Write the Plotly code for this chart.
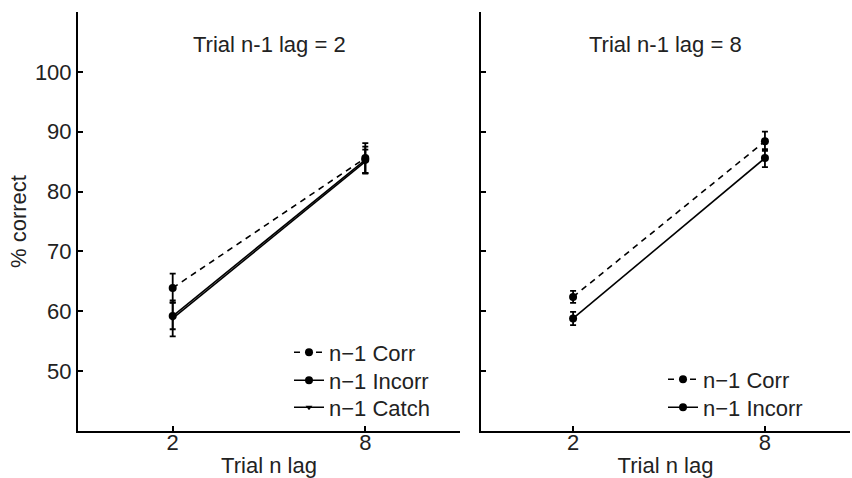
import plotly.graph_objects as go

x_lags = [2, 8]

# Panel 1: Trial n-1 lag = 2
p1_corr = [63.9, 85.6]
p1_corr_err = [2.4, 2.5]
p1_incorr = [59.2, 85.3]
p1_incorr_err = [2.2, 2.2]
p1_catch = [58.8, 85.0]
p1_catch_err = [3.0, 2.0]

# Panel 2: Trial n-1 lag = 8
p2_corr = [62.4, 88.4]
p2_corr_err = [1.0, 1.6]
p2_incorr = [58.8, 85.6]
p2_incorr_err = [1.1, 1.5]

titles = ["Trial n-1 lag = 2", "Trial n-1 lag = 8"]
y_ticks = [50, 60, 70, 80, 90, 100]

FONT = "Liberation Sans, Arial, sans-serif"
FS = 22
black = "black"
tcol = "#222"

W, H = 852, 478
L, R, T, B = 78, 2, 12, 47
pw = W - L - R
ph = H - T - B
d1 = [0, (460 - L) / pw]
d2 = [(481 - L) / pw, 1]

fig = go.Figure()

def add(x, y, err, name, dash, symbol, msize, xa, ya, legend):
    fig.add_trace(go.Scatter(
        x=x, y=y, name=name, mode="lines+markers",
        line=dict(color=black, width=1.6, dash=dash),
        marker=dict(color=black, size=msize, symbol=symbol),
        error_y=dict(type="data", array=err, visible=True, color=black,
                     thickness=1.8, width=3),
        xaxis=xa, yaxis=ya, legend=legend,
    ))

add(x_lags, p1_catch, p1_catch_err, "n\u22121 Catch", "solid", "triangle-down", 6, "x", "y", "legend3")
add(x_lags, p1_incorr, p1_incorr_err, "n\u22121 Incorr", "solid", "circle", 8, "x", "y", "legend2")
add(x_lags, p1_corr, p1_corr_err, "n\u22121 Corr", "6px,5px", "circle", 8, "x", "y", "legend")
add(x_lags, p2_incorr, p2_incorr_err, "n\u22121 Incorr", "solid", "circle", 8, "x2", "y2", "legend5")
add(x_lags, p2_corr, p2_corr_err, "n\u22121 Corr", "6px,5px", "circle", 8, "x2", "y2", "legend4")

axis_common = dict(showline=True, linecolor=black, linewidth=2, ticks="inside",
                   ticklen=5, tickwidth=1.5, tickcolor=black, showgrid=False,
                   zeroline=False, tickfont=dict(family=FONT, size=FS, color=tcol),
                   mirror=False)

def leg(left_px, center_px):
    return dict(x=(left_px - L) / pw, xanchor="left",
                y=(H - B - (center_px - 20.5)) / ph, yanchor="top",
                bgcolor="rgba(0,0,0,0)", itemwidth=30,
                font=dict(family=FONT, size=FS, color=tcol))

fig.update_layout(
    width=W, height=H, margin=dict(l=L, r=R, t=T, b=B),
    paper_bgcolor="white", plot_bgcolor="white",
    font=dict(family=FONT, size=FS, color=tcol),
    showlegend=True,
    xaxis=dict(domain=d1, range=[-0.95, 10.95], tickvals=x_lags, ticklabelstandoff=-9,
               title=dict(text="Trial n lag", font=dict(family=FONT, size=FS), standoff=3),
               anchor="y", **axis_common),
    yaxis=dict(domain=[0, 1], range=[40, 110], tickvals=y_ticks,
               title=dict(text="% correct", font=dict(family=FONT, size=FS), standoff=2),
               anchor="x", **axis_common),
    xaxis2=dict(domain=d2, range=[-0.88, 10.66], tickvals=x_lags, ticklabelstandoff=-9,
                title=dict(text="Trial n lag", font=dict(family=FONT, size=FS), standoff=3),
                anchor="y2", **axis_common),
    yaxis2=dict(domain=[0, 1], range=[40, 110], tickvals=y_ticks, showticklabels=False,
                anchor="x2", **axis_common),
    legend=leg(289, 352),
    legend2=leg(289, 380),
    legend3=leg(289, 407),
    legend4=leg(663, 379),
    legend5=leg(663, 407),
)

for i, t in enumerate(titles):
    dom = d1 if i == 0 else d2
    fig.add_annotation(text=t, xref="paper", yref="paper",
                       x=(dom[0] + dom[1]) / 2, y=1 - (44 - T) / ph,
                       xanchor="center", yanchor="middle", showarrow=False,
                       font=dict(family=FONT, size=FS, color=tcol))

fig.write_html("out.html")
